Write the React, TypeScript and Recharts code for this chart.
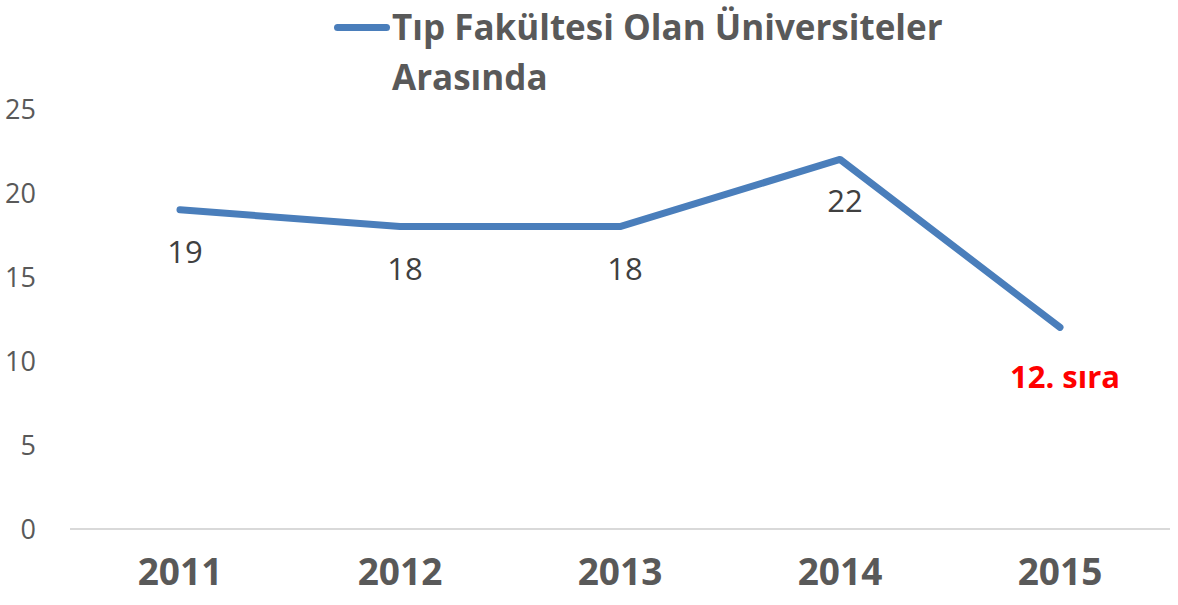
import React from 'react';
import { LineChart, Line, XAxis, YAxis, CartesianGrid, Legend, LabelList } from 'recharts';

// values
const years = ['2011', '2012', '2013', '2014', '2015'];
const ranks = [19, 18, 18, 22, 12];
const rankLabels = ['19', '18', '18', '22', '12. sıra'];
const yTicks = [0, 5, 10, 15, 20, 25];
const seriesName = 'Tıp Fakültesi Olan Üniversiteler Arasında';

const data = years.map((year, i) => ({ year, rank: ranks[i], label: rankLabels[i] }));

const FONT = '"Open Sans", "Noto Sans", sans-serif';
const LINE_COLOR = '#4a7ebb';

const renderLegend = () => (
  <div style={{ position: 'relative', width: 1178, height: 105, fontFamily: FONT }}>
    <div
      style={{
        position: 'absolute',
        left: 334,
        top: 24,
        width: 56,
        height: 7,
        borderRadius: 4,
        background: LINE_COLOR
      }}
    />
    <div
      style={{
        position: 'absolute',
        left: 392,
        top: 2,
        width: 640,
        fontSize: 35,
        fontWeight: 700,
        lineHeight: '50px',
        color: '#595959',
        textAlign: 'left'
      }}
    >
      Tıp Fakültesi Olan Üniversiteler
      <br />
      Arasında
    </div>
  </div>
);

// labels sit just below each point; the last one is highlighted in red
const renderLabel = (props: any) => {
  const { x, y, value, index } = props;
  const last = index === ranks.length - 1;
  return (
    <text
      x={x + 5}
      y={y + (last ? 61 : 53)}
      textAnchor="middle"
      fontFamily={FONT}
      fontSize={31}
      fontWeight={last ? 700 : 400}
      fill={last ? '#ff0000' : '#404040'}
    >
      {value}
    </text>
  );
};

export default function App() {
  return (
    <div style={{ position: 'absolute', left: 0, top: 0, background: '#fff' }}>
      <LineChart
        width={1178}
        height={605}
        data={data}
        margin={{ top: 4, right: 8, left: 0, bottom: 0 }}
      >
        <CartesianGrid horizontal={false} vertical={false} />
        <XAxis
          dataKey="year"
          padding={{ left: 110, right: 110 }}
          axisLine={{ stroke: '#d9d9d9', strokeWidth: 2 }}
          tickLine={false}
          height={76}
          tick={{ fontSize: 37, fontWeight: 700, fill: '#595959', fontFamily: FONT }}
          tickMargin={24}
        />
        <YAxis
          domain={[0, 25]}
          ticks={yTicks}
          width={70}
          axisLine={false}
          tickLine={false}
          tickMargin={28}
          tick={{ fontSize: 27, fill: '#595959', fontFamily: FONT }}
        />
        <Legend
          verticalAlign="top"
          content={renderLegend}
          wrapperStyle={{ top: 0, left: 0 }}
        />
        <Line
          type="linear"
          dataKey="rank"
          name={seriesName}
          stroke={LINE_COLOR}
          strokeWidth={7}
          strokeLinecap="round"
          strokeLinejoin="round"
          dot={false}
          isAnimationActive={false}
        >
          <LabelList dataKey="label" content={renderLabel} />
        </Line>
      </LineChart>
    </div>
  );
}
